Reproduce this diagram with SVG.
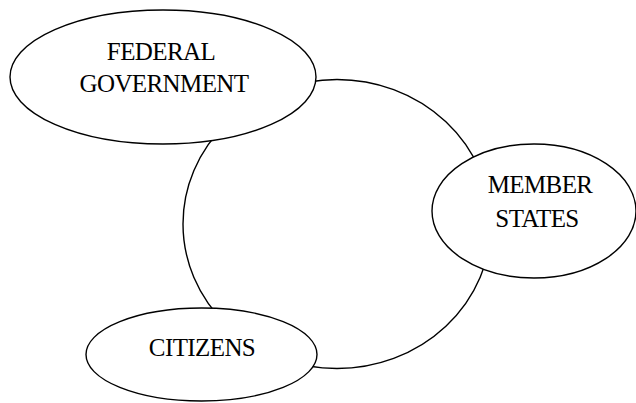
<svg xmlns="http://www.w3.org/2000/svg" width="636" height="403" viewBox="0 0 636 403">
  <style>
    .shape { fill: #ffffff; stroke: #000000; stroke-width: 1.4; }
    .ring { fill: none; stroke: #000000; stroke-width: 1.4; }
    .label { font-family: "Liberation Serif", "Times New Roman", serif; font-size: 25px; letter-spacing: -0.6px; fill: #000000; text-anchor: middle; }
  </style>
  <rect width="636" height="403" fill="#ffffff"/>
  <!-- ring linking the three bodies -->
  <g id="connectors">
    <ellipse class="ring" cx="337" cy="224" rx="154" ry="144.5"/>
  </g>
  <g id="federal-government">
    <ellipse class="shape" cx="163" cy="77" rx="153" ry="67"/>
    <text class="label" x="161" y="60">FEDERAL</text>
    <text class="label" x="164" y="92">GOVERNMENT</text>
  </g>
  <g id="member-states">
    <ellipse class="shape" cx="534" cy="211" rx="102" ry="67"/>
    <text class="label" x="540" y="193">MEMBER</text>
    <text class="label" x="537" y="227">STATES</text>
  </g>
  <g id="citizens">
    <ellipse class="shape" cx="201.5" cy="354.5" rx="115.5" ry="46.5"/>
    <text class="label" x="202" y="356">CITIZENS</text>
  </g>
</svg>
